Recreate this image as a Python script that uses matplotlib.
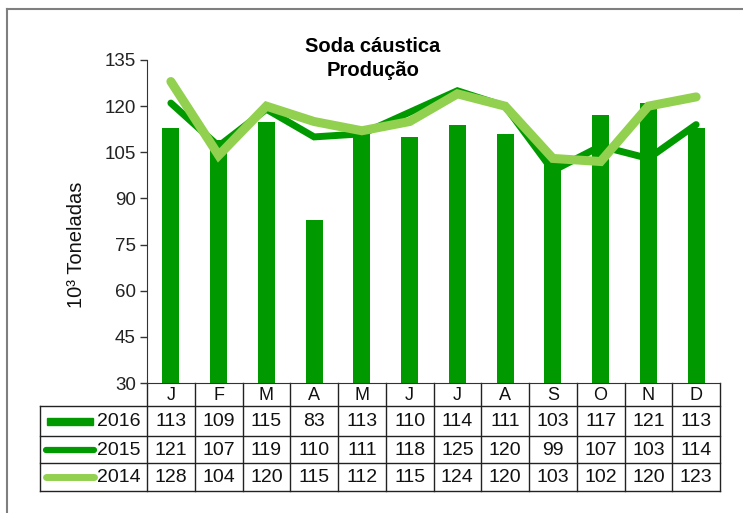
import matplotlib
matplotlib.use("Agg")
import matplotlib.pyplot as plt
from matplotlib.transforms import blended_transform_factory
from matplotlib.lines import Line2D
from matplotlib.patches import Rectangle
import numpy as np

months = ["J", "F", "M", "A", "M", "J", "J", "A", "S", "O", "N", "D"]
s2016 = [113, 109, 115, 83, 113, 110, 114, 111, 103, 117, 121, 113]
s2015 = [121, 107, 119, 110, 111, 118, 125, 120, 99, 107, 103, 114]
s2014 = [128, 104, 120, 115, 112, 115, 124, 120, 103, 102, 120, 123]
series_names = ["2016", "2015", "2014"]
yticks = [30, 45, 60, 75, 90, 105, 120, 135]

c2016 = "#009A00"
c2015 = "#009A00"
c2014 = "#92D050"

plt.rcParams['font.family'] = ['Liberation Sans', 'DejaVu Sans']

W, H = 743, 513
fig = plt.figure(figsize=(W / 100, H / 100), dpi=100)

# overlay in pixel coordinates
ov = fig.add_axes([0, 0, 1, 1], zorder=0)
ov.set_xlim(0, W)
ov.set_ylim(H, 0)
ov.axis("off")

x0, x1, ytop, ybot = 147, 720, 60, 383
ax = fig.add_axes([x0 / W, (H - ybot) / H, (x1 - x0) / W, (ybot - ytop) / H], zorder=2)
ax.patch.set_alpha(0)
x = np.arange(len(months))
ax.bar(x, [v - 30 for v in s2016], bottom=30, width=0.36, color=c2016, zorder=2)
ax.plot(x, s2015, color=c2015, lw=5, solid_joinstyle="miter", solid_capstyle="round", zorder=3)
ax.plot(x, s2014, color=c2014, lw=6.5, solid_joinstyle="miter", solid_capstyle="round", zorder=4)
ax.set_xlim(-0.5, len(months) - 0.5)
ax.set_ylim(30, 135)
ax.set_yticks(yticks)
ax.set_yticklabels([str(t) for t in yticks], fontsize=13.5, color="#222222")
ax.set_xticks([])
for s in ["top", "right"]:
    ax.spines[s].set_visible(False)
ax.spines["left"].set_color("#333333")
ax.spines["bottom"].set_color("#333333")
ax.tick_params(axis="y", length=5, width=1, color="#333333", pad=3)

fig.text(373 / W, 1 - 46 / H, "Soda cáustica", ha="center", va="center",
         fontsize=14.5, fontweight="bold")
fig.text(373 / W, 1 - 71 / H, "Produção", ha="center", va="center",
         fontsize=14.5, fontweight="bold")
fig.text(76 / W, 1 - 245 / H, "10³ Toneladas", rotation=90, ha="center", va="center",
         fontsize=14.5, color="#111111")

# frame
ov.add_line(Line2D([7, W], [9, 9], color="#7f7f7f", lw=1.5))
ov.add_line(Line2D([7, 7], [9, H], color="#7f7f7f", lw=1.5))

# table
tr = blended_transform_factory(ax.transData, ov.transData)
rows_y = [383, 406, 436, 463, 491]
lc = "#222222"
n = len(months)
for i in range(n + 1):
    xx = i - 0.5
    ov.add_line(Line2D([xx, xx], [rows_y[0], rows_y[-1]], color=lc, lw=1, transform=tr))
for k, yy in enumerate(rows_y):
    if k == 0:
        continue
    ov.add_line(Line2D([40, 720], [yy, yy], color=lc, lw=1))
ov.add_line(Line2D([40, 40], [rows_y[1], rows_y[-1]], color=lc, lw=1))
for i, m in enumerate(months):
    ov.text(i, (rows_y[0] + rows_y[1]) / 2 + 1, m, transform=tr, ha="center", va="center",
            fontsize=13, color="#111111")
data = [s2016, s2015, s2014]
for r, (vals, name) in enumerate(zip(data, series_names)):
    yc = (rows_y[r + 1] + rows_y[r + 2]) / 2 + 1
    for i, v in enumerate(vals):
        ov.text(i, yc, str(v), transform=tr, ha="center", va="center",
                fontsize=14, color="#111111")
    ov.text(119, yc, name, ha="center", va="center", fontsize=14, color="#111111")
# legend keys
yk = (rows_y[1] + rows_y[2]) / 2
ov.add_patch(Rectangle((47, yk - 3.5), 46, 7, color=c2016))
yk = (rows_y[2] + rows_y[3]) / 2
ov.add_line(Line2D([46, 94], [yk, yk], color=c2015, lw=4.5, solid_capstyle="round"))
yk = (rows_y[3] + rows_y[4]) / 2
ov.add_line(Line2D([46, 94], [yk, yk], color=c2014, lw=5, solid_capstyle="round"))

fig.savefig("out.png", dpi=100)
